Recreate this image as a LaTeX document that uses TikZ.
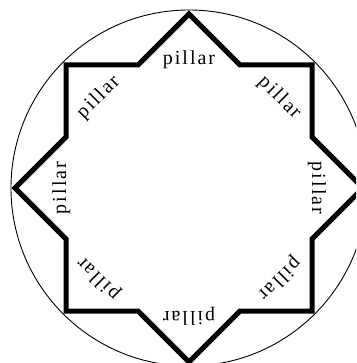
\documentclass[tikz,border=0pt]{standalone}
\usepackage{fontspec}
\usetikzlibrary{calc}
\newfontfamily\pillarfont[LetterSpace=10]{Liberation Serif}
\begin{document}
\begin{tikzpicture}[x=1pt,y=-1pt,
  starline/.style={line width=5pt,line join=miter},
  rim/.style={line width=0.9pt},
  lab/.style={font=\pillarfont\fontsize{20}{20}\selectfont,anchor=base,inner sep=0pt}]
\useasboundingbox (0,0) rectangle (356,363);
\fill[white] (0,0) rectangle (356,363);
\coordinate (c) at (189,188);
\begin{scope}
\clip (0,0) rectangle (356,363);
\draw[rim] (c) circle (178);
\draw[starline]
  (189,14) -- (240,65) -- (312,65) -- (312,137) -- (363,188)
  -- (312,239) -- (312,311) -- (240,311) -- (189,362)
  -- (138,311) -- (66,311) -- (66,239) -- (15,188)
  -- (66,137) -- (66,65) -- (138,65) -- cycle;
\end{scope}
\foreach \a/\n in {-90/t,-45/tr,0/r,45/br,90/b,135/bl,180/l,225/tl}{
  \node[lab,rotate=-\a-90] (p\n) at ($(c)+(\a:123)$) {pillar};
}
\end{tikzpicture}
\end{document}
